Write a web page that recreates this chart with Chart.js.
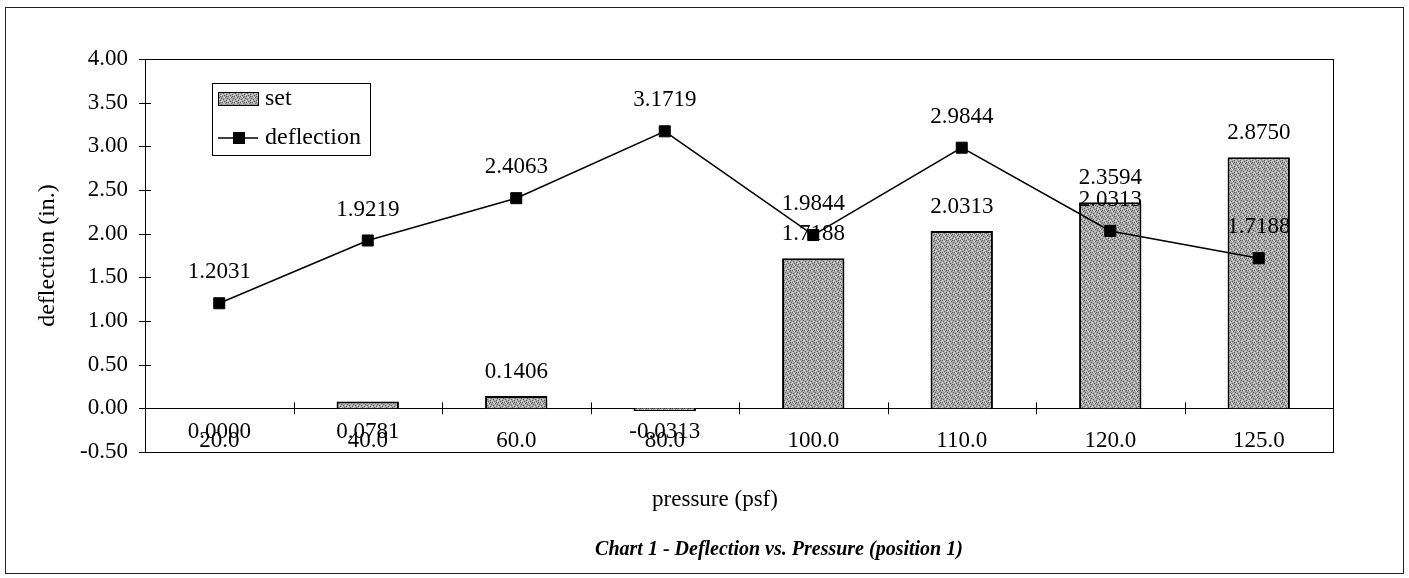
<!DOCTYPE html>
<html><head><meta charset="utf-8">
<script src="https://cdn.jsdelivr.net/npm/chart.js@4/dist/chart.umd.min.js"></script>
<style>html,body{margin:0;padding:0;background:#fff}#wrap{width:1409px;height:578px;position:relative}</style>
</head><body><div id="wrap"><canvas id="c" width="1409" height="578"></canvas></div>
<script>
const categories = ['20.0','40.0','60.0','80.0','100.0','110.0','120.0','125.0'];
const setValues = [0.0000, 0.0781, 0.1406, -0.0313, 1.7188, 2.0313, 2.3594, 2.8750];
const deflectionValues = [1.2031, 1.9219, 2.4063, 3.1719, 1.9844, 2.9844, 2.0313, 1.7188];
const yTickValues = [-0.5, 0, 0.5, 1.0, 1.5, 2.0, 2.5, 3.0, 3.5, 4.0];
const seriesNames = ['set', 'deflection'];
const xAxisTitle = 'pressure (psf)';
const yAxisTitle = 'deflection (in.)';
const chartTitle = 'Chart 1 - Deflection vs. Pressure (position 1)';

const FAMILY = '"Liberation Serif", "Times New Roman", serif';
const FS = 23;

function makePattern() {
  const p = document.createElement('canvas');
  p.width = 6; p.height = 6;
  const g = p.getContext('2d');
  g.fillStyle = '#a9a9a9'; g.fillRect(0, 0, 6, 6);
  g.fillStyle = '#5e5e5e';
  [[0,0],[3,1],[1,3],[4,4],[5,2],[2,5],[4,0]].forEach(([x,y]) => g.fillRect(x, y, 1, 1));
  g.fillStyle = '#dcdcdc';
  [[2,1],[0,4],[5,5],[3,3],[1,0]].forEach(([x,y]) => g.fillRect(x, y, 1, 1));
  return g.createPattern(p, 'repeat');
}
const barPattern = makePattern();

const decor = {
  id: 'decor',
  afterDatasetDraw(chart, args) {
    const ctx = chart.ctx;
    const meta = args.meta;
    const ds = chart.data.datasets[args.index];
    const y0 = chart.scales.y.getPixelForValue(0);
    ctx.save();
    ctx.font = FS + 'px ' + FAMILY;
    ctx.fillStyle = '#000';
    ctx.textAlign = 'center';
    ctx.textBaseline = 'middle';
    meta.data.forEach((el, i) => {
      const v = ds.data[i];
      const txt = v.toFixed(4);
      if (ds.type === 'bar') {
        if (v >= 0.1) ctx.fillText(txt, el.x, el.y - 24);
        else ctx.fillText(txt, el.x, y0 + 24);
      } else {
        ctx.fillText(txt, el.x, el.y - 31);
      }
    });
    ctx.restore();
  },
  beforeDatasetsDraw(chart) {
    const {ctx, chartArea: a} = chart;
    ctx.save();
    ctx.strokeStyle = '#000';
    ctx.lineWidth = 1;
    ctx.strokeRect(Math.round(a.left) + 0.5, Math.round(a.top) + 0.5, Math.round(a.right - a.left), Math.round(a.bottom - a.top));
    ctx.restore();
  },
  afterDraw(chart) {
    const {ctx, chartArea: a, scales: {x, y}} = chart;
    ctx.save();
    ctx.strokeStyle = '#000';
    ctx.lineWidth = 1;
    yTickValues.forEach(v => {
      const py = Math.round(y.getPixelForValue(v)) + 0.5;
      ctx.beginPath(); ctx.moveTo(a.left - 6, py); ctx.lineTo(a.left + 6, py); ctx.stroke();
    });
    const y0 = y.getPixelForValue(0);
    for (let i = 1; i < categories.length; i++) {
      const px = Math.round((x.getPixelForValue(i - 1) + x.getPixelForValue(i)) / 2) + 0.5;
      ctx.beginPath(); ctx.moveTo(px, y0 - 6); ctx.lineTo(px, y0 + 6); ctx.stroke();
    }
    ctx.strokeStyle = '#222';
    ctx.strokeRect(5.5, 7.5, 1398, 566);
    // legend
    const lx = a.left + 67, ly = a.top + 24, lw = 158, lh = 72;
    ctx.fillStyle = '#fff';
    ctx.fillRect(lx, ly, lw, lh);
    ctx.strokeStyle = '#000';
    ctx.strokeRect(lx + 0.5, ly + 0.5, lw, lh);
    ctx.fillStyle = barPattern;
    ctx.fillRect(lx + 6, ly + 9, 40, 13);
    ctx.strokeRect(lx + 6.5, ly + 9.5, 40, 13);
    ctx.lineWidth = 1.5;
    ctx.beginPath(); ctx.moveTo(lx + 6, ly + 55); ctx.lineTo(lx + 46, ly + 55); ctx.stroke();
    ctx.fillStyle = '#000';
    ctx.fillRect(lx + 21, ly + 49, 12, 12);
    ctx.font = '24px ' + FAMILY;
    ctx.textAlign = 'left';
    ctx.textBaseline = 'middle';
    ctx.fillText(chart.data.datasets[1].label, lx + 53, ly + 16);
    ctx.fillText(chart.data.datasets[0].label, lx + 53, ly + 55);
    ctx.font = FS + 'px ' + FAMILY;
    ctx.textAlign = 'center';
    ctx.fillText(xAxisTitle, (a.left + a.right) / 2 - 24, a.bottom + 48);
    ctx.font = 'italic bold 20px ' + FAMILY;
    ctx.fillText(chartTitle, (a.left + a.right) / 2 + 40, a.bottom + 98);
    ctx.restore();
  }
};

new Chart(document.getElementById('c'), {
  type: 'bar',
  data: {
    labels: categories,
    datasets: [
      {
        type: 'line', label: seriesNames[1], data: deflectionValues,
        borderColor: '#000', borderWidth: 1.5, tension: 0,
        pointStyle: 'rect', pointRadius: 7.8, pointBackgroundColor: '#000',
        pointBorderColor: '#000', pointBorderWidth: 1, order: 0
      },
      {
        type: 'bar', label: seriesNames[0], data: setValues,
        backgroundColor: barPattern, borderColor: '#000', borderWidth: 2,
        categoryPercentage: 1, barPercentage: 0.42, order: 1
      }
    ]
  },
  options: {
    responsive: false, animation: false, devicePixelRatio: 1,
    layout: {padding: {left: 0, top: 59, right: 76, bottom: 126}},
    plugins: {legend: {display: false}, tooltip: {enabled: false}},
    scales: {
      x: {
        position: {y: 0}, offset: true,
        grid: {display: false, drawTicks: false},
        border: {display: true, color: '#000', width: 1},
        ticks: {font: {family: FAMILY, size: FS}, color: '#000', padding: 19, maxRotation: 0, autoSkip: false}
      },
      y: {
        min: -0.5, max: 4,
        afterFit(s) { s.width = 145; },
        afterBuildTicks(s) { s.ticks = yTickValues.map(v => ({value: v})); },
        grid: {display: false, drawTicks: false},
        border: {display: true, color: '#000', width: 1},
        ticks: {font: {family: FAMILY, size: FS}, color: '#000', padding: 17, callback: v => Number(v).toFixed(2)},
        title: {display: true, text: yAxisTitle, color: '#000', font: {family: FAMILY, size: 24}, padding: {top: 33, bottom: 0}}
      }
    }
  },
  plugins: [decor]
});
</script>
</body></html>
